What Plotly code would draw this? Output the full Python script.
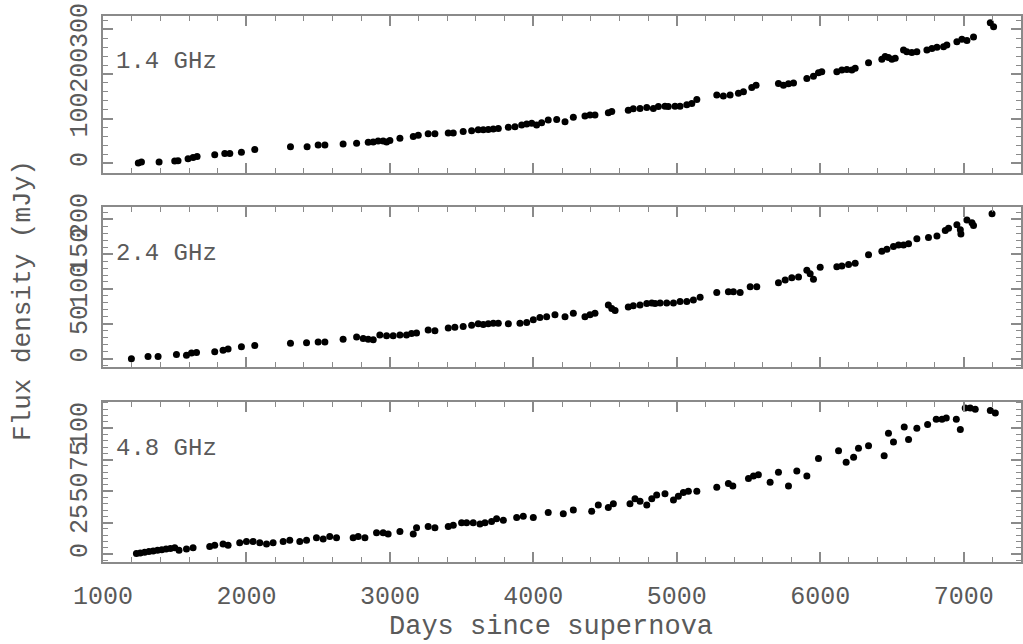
import plotly.graph_objects as go

# ---------------- data ----------------
days_14 = [1246, 1268, 1391, 1500, 1523, 1593, 1628, 1656, 1779, 1849, 1884, 1965, 2058,
           2307, 2423, 2500, 2547, 2674, 2768, 2849, 2884, 2918, 2953, 2977, 3000, 3070,
           3163, 3198, 3267, 3314, 3407, 3442, 3511, 3570, 3616, 3651, 3686, 3721, 3756,
           3826, 3872, 3919, 3954, 3989, 4023, 4058, 4104, 4163, 4221, 4279, 4360, 4395,
           4430, 4523, 4547, 4662, 4697, 4744, 4791, 4837, 4872, 4918, 4941, 4988, 5023,
           5070, 5105, 5140, 5279, 5325, 5372, 5430, 5465, 5523, 5553, 5709, 5744, 5779,
           5814, 5907, 5953, 5988, 6011, 6116, 6151, 6186, 6221, 6244, 6337, 6430, 6453,
           6476, 6500, 6523, 6581, 6604, 6639, 6674, 6744, 6779, 6814, 6860, 6883, 6953,
           6988, 7023, 7069, 7186, 7209]
flux_14 = [1, 3, 3, 5, 6, 10, 13, 15, 19, 22, 22, 25, 31,
           37, 37, 41, 41, 43, 45, 47, 48, 50, 50, 48, 51, 56,
           60, 63, 66, 66, 68, 68, 71, 73, 75, 75, 76, 77, 78,
           81, 82, 86, 88, 90, 86, 91, 97, 98, 93, 103, 106, 108,
           108, 113, 116, 119, 122, 123, 125, 123, 127, 128, 127, 128, 128,
           131, 134, 143, 153, 151, 153, 157, 160, 170, 175, 179, 175, 178,
           180, 190, 195, 203, 205, 205, 209, 210, 209, 213, 225, 233, 239,
           237, 233, 235, 254, 250, 248, 250, 254, 257, 260, 261, 265, 272,
           278, 275, 283, 315, 306]

days_24 = [1198, 1314, 1384, 1512, 1582, 1617, 1652, 1779, 1837, 1872, 1965, 2058,
           2307, 2419, 2500, 2547, 2674, 2768, 2814, 2849, 2884, 2930, 2977, 3023, 3070,
           3116, 3151, 3186, 3267, 3314, 3407, 3453, 3511, 3570, 3616, 3651, 3686, 3721,
           3756, 3826, 3907, 3954, 4000, 4046, 4093, 4151, 4221, 4279, 4360, 4395, 4430,
           4523, 4547, 4570, 4662, 4697, 4744, 4791, 4826, 4849, 4884, 4930, 4977, 5023,
           5070, 5116, 5163, 5279, 5360, 5395, 5442, 5512, 5558, 5709, 5756, 5802, 5849,
           5907, 5930, 5953, 6000, 6116, 6151, 6198, 6244, 6337, 6430, 6465, 6511, 6546,
           6581, 6616, 6674, 6755, 6814, 6872, 6895, 6953, 6977, 6981, 7023, 7058, 7069,
           7198]
flux_24 = [0, 3, 3, 6, 5, 8, 9, 10, 12, 14, 17, 19,
           22, 23, 24, 24, 28, 31, 29, 28, 27, 34, 33, 33, 34,
           34, 36, 37, 41, 40, 44, 45, 46, 48, 50, 49, 50, 51,
           51, 50, 51, 52, 56, 59, 60, 63, 60, 65, 60, 63, 65,
           77, 72, 69, 74, 76, 77, 79, 80, 79, 80, 80, 80, 82,
           82, 84, 88, 95, 96, 96, 95, 103, 103, 109, 113, 116, 117,
           127, 122, 114, 131, 132, 133, 135, 137, 149, 154, 157, 161, 163,
           163, 165, 172, 174, 176, 184, 187, 192, 185, 179, 199, 195, 191,
           208]

days_48 = [1233, 1260, 1290, 1320, 1350, 1380, 1410, 1440, 1470, 1500, 1530, 1582,
           1628, 1744, 1779, 1837, 1872, 1953, 2000, 2046, 2093, 2140, 2186, 2256, 2302,
           2372, 2419, 2488, 2535, 2581, 2628, 2744, 2779, 2826, 2907, 2953, 2988, 3070,
           3163, 3186, 3267, 3314, 3407, 3442, 3500, 3535, 3581, 3628, 3663, 3709, 3744,
           3791, 3884, 3930, 4000, 4104, 4209, 4279, 4407, 4453, 4523, 4558, 4674, 4709,
           4744, 4791, 4826, 4860, 4918, 4977, 5011, 5046, 5081, 5140, 5279, 5360, 5391,
           5500, 5535, 5569, 5651, 5709, 5779, 5837, 5907, 5988, 6128, 6181, 6233, 6267,
           6337, 6446, 6476, 6511, 6586, 6616, 6674, 6749, 6809, 6849, 6879, 6949, 6977,
           7011, 7046, 7081, 7186, 7221]
flux_48 = [0.5, 1, 1.5, 2, 2.5, 3, 3.5, 4, 4.5, 5, 3, 4,
           5, 6, 7, 8, 7, 9, 10, 10, 9, 8, 9, 10, 11,
           10, 11, 13, 12, 14, 13, 13, 14, 13, 17, 17, 16, 18,
           16, 21, 22, 21, 22, 23, 25, 25, 25, 24, 25, 26, 28,
           27, 29, 30, 29, 33, 32, 35, 34, 39, 37, 40, 40, 44,
           42, 39, 44, 47, 48, 43, 46, 49, 50, 50, 53, 56, 54,
           60, 62, 63, 57, 65, 54, 66, 62, 76, 82, 73, 77, 84,
           86, 78, 96, 89, 101, 91, 100, 103, 107, 107, 108, 107, 99,
           116, 116, 115, 114, 112]

band_labels = ["1.4 GHz", "2.4 GHz", "4.8 GHz"]
x_tick_vals = [1000, 2000, 3000, 4000, 5000, 6000, 7000]
y_ticks_14 = [0, 100, 200, 300]
y_ticks_24 = [0, 50, 100, 150, 200]
y_ticks_48 = [0, 25, 50, 75, 100]

# ---------------- styling ----------------
FONT = "Liberation Mono"
GREY = "#5a5a5a"
LINE = "#8a8a8a"
TICKSIZE = 25
W, H = 1023, 644
ML, MR, MT, MB = 103, 2, 15, 82
ph = H - MT - MB

def dom(top_px, bot_px):
    return [(H - MB - bot_px) / ph, (H - MB - top_px) / ph]

panels = [
    (days_14, flux_14, [-21, 331], y_ticks_14, 20, dom(15.5, 172.7)),
    (days_24, flux_24, [-11.5, 218], y_ticks_24, 10, dom(206.7, 366.7)),
    (days_48, flux_48, [-6, 121], y_ticks_48, 5, dom(401.7, 561.7)),
]

fig = go.Figure()
layout = dict(
    width=W, height=H,
    margin=dict(l=ML, r=MR, t=MT, b=MB, autoexpand=False),
    paper_bgcolor="white", plot_bgcolor="white",
    showlegend=False,
    font=dict(family=FONT, color=GREY, size=TICKSIZE),
)
annotations = []
for i, (xs, ys, yr, yt, ymin, d) in enumerate(panels):
    n = i + 1
    xa = "x" if n == 1 else f"x{n}"
    ya = "y" if n == 1 else f"y{n}"
    fig.add_trace(go.Scatter(
        x=xs, y=ys, mode="markers", xaxis=xa, yaxis=ya,
        marker=dict(color="black", size=7, line=dict(width=0)),
    ))
    xkey = "xaxis" if n == 1 else f"xaxis{n}"
    ykey = "yaxis" if n == 1 else f"yaxis{n}"
    layout[xkey] = dict(
        domain=[0, 1], anchor=ya, range=[1000, 7400],
        tickvals=x_tick_vals, showticklabels=(n == 3),
        ticks="inside", ticklen=10, tickwidth=1.5, tickcolor=LINE,
        minor=dict(dtick=200, tick0=1000, ticks="inside", ticklen=5, tickwidth=1.2, tickcolor=LINE),
        showline=True, linecolor=LINE, linewidth=2, mirror="ticks",
        showgrid=False, zeroline=False, automargin=False,
        tickfont=dict(family=FONT, size=TICKSIZE, color=GREY),
        ticklabelstandoff=10,
    )
    if n != 1:
        layout[xkey]["matches"] = "x"
    layout[ykey] = dict(
        domain=d, anchor=xa, range=yr,
        tickvals=yt, tickangle=-90,
        ticks="inside", ticklen=10, tickwidth=1.5, tickcolor=LINE,
        minor=dict(dtick=ymin, tick0=0, ticks="inside", ticklen=5, tickwidth=1.2, tickcolor=LINE),
        showline=True, linecolor=LINE, linewidth=2, mirror="ticks",
        showgrid=False, zeroline=False, automargin=False,
        tickfont=dict(family=FONT, size=TICKSIZE, color=GREY),
        ticklabelstandoff=4,
    )
    annotations.append(dict(
        text=band_labels[i], xref=f"{xa} domain", yref=f"{ya} domain",
        x=0.012, y=0.71, xanchor="left", yanchor="middle", showarrow=False,
        font=dict(family=FONT, size=24, color=GREY),
    ))

annotations.append(dict(
    text="Flux density (mJy)", xref="paper", yref="paper",
    x=-(ML - 23) / (W - ML - MR), y=(H - MB - 301) / ph, textangle=-90,
    xanchor="center", yanchor="middle", showarrow=False,
    font=dict(family=FONT, size=26, color=GREY),
))
annotations.append(dict(
    text="Days since supernova", xref="paper", yref="paper",
    x=(551 - ML) / (W - ML - MR), y=-(627 - (H - MB)) / ph,
    xanchor="center", yanchor="middle", showarrow=False,
    font=dict(family=FONT, size=27, color=GREY),
))
layout["annotations"] = annotations
fig.update_layout(**layout)
fig.write_html(
    "out.html",
    config={"displayModeBar": False},
    post_script="document.body.style.margin='0';document.body.style.overflow='hidden';",
)
